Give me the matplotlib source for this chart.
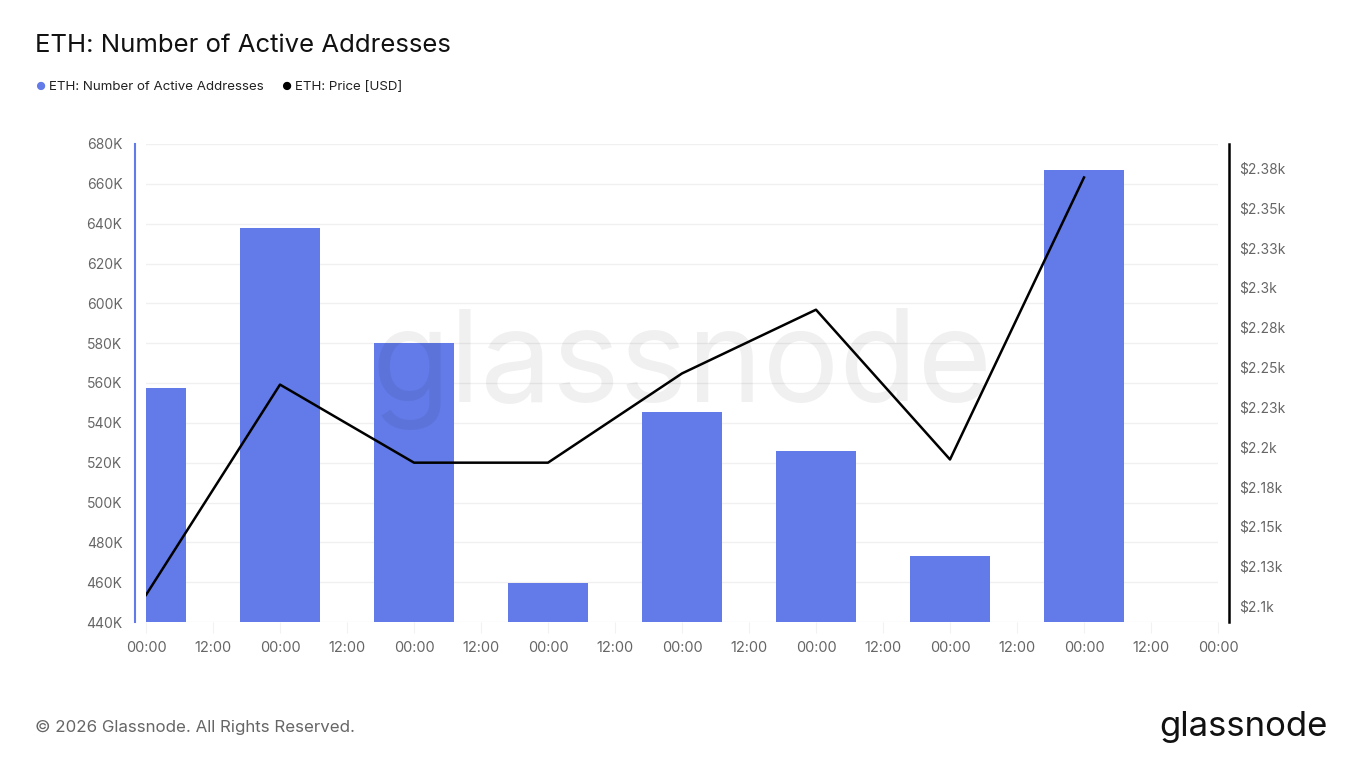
import numpy as np
import matplotlib
matplotlib.use("Agg")
from matplotlib import pyplot as plt

plt.rcParams['font.family'] = ['Inter', 'DejaVu Sans']

# hours since first day 00:00
hours = [0, 24, 48, 72, 96, 120, 144, 168]
active_addresses = [557.5e3, 637.8e3, 580.0e3, 459.6e3, 545.4e3, 525.9e3, 473.0e3, 667.0e3]
price_usd = [2107, 2239, 2190, 2190, 2246, 2286, 2192, 2369]

x_ticks = list(range(0, 193, 12))
x_labels = ["00:00" if t % 24 == 0 else "12:00" for t in x_ticks]
left_ticks = list(range(440000, 680001, 20000))
right_ticks = [2100, 2125, 2150, 2175, 2200, 2225, 2250, 2275, 2300, 2325, 2350, 2375]
right_labels = ["$2.1k", "$2.13k", "$2.15k", "$2.18k", "$2.2k", "$2.23k", "$2.25k",
                "$2.28k", "$2.3k", "$2.33k", "$2.35k", "$2.38k"]

bar_color = "#627be8"
tick_color = "#666666"

fig = plt.figure(figsize=(13.65, 7.68), dpi=100)
ax = fig.add_axes([146/1365, 1-622/768, (1218-146)/1365, (622-144)/768])

ax.bar(hours, active_addresses, width=14.4, color=bar_color, zorder=2)
ax.set_xlim(0, 192)
ax.set_ylim(440000, 680000)
ax.set_yticks(left_ticks)
ax.set_yticklabels([f"{int(v/1000)}K" for v in left_ticks])
ax.set_xticks(x_ticks)
ax.set_xticklabels(x_labels)
ax.grid(axis='y', color="#f0f0f0", linewidth=1, zorder=0)
ax.tick_params(axis='y', length=0, pad=9, labelsize=10, labelcolor=tick_color)
ax.tick_params(axis='x', length=8, color="#f2f2f2", pad=6, labelsize=10.5, labelcolor=tick_color)
for s in ['top', 'right', 'bottom']:
    ax.spines[s].set_visible(False)
ax.spines['left'].set_position(('outward', 8))
ax.spines['left'].set_color(bar_color)
ax.spines['left'].set_linewidth(1.5)

ax2 = ax.twinx()
ax2.plot(hours, price_usd, color="black", linewidth=1.8, zorder=3)
ax2.set_ylim(2090, 2390)
ax2.set_yticks(right_ticks)
ax2.set_yticklabels(right_labels)
ax2.tick_params(axis='y', length=0, pad=7, labelsize=10, labelcolor=tick_color)
for s in ['top', 'left', 'bottom']:
    ax2.spines[s].set_visible(False)
ax2.spines['right'].set_position(('outward', 8))
ax2.spines['right'].set_color("black")
ax2.spines['right'].set_linewidth(1.8)

# watermark
fig.text(0.5, 0.52, "glassnode", fontsize=92, color="black", alpha=0.06,
         ha='center', va='center', zorder=10)

fig.text(35/1365, 1-46/768, "ETH: Number of Active Addresses", fontsize=18.5,
         color="#111111", ha='left', va='center')

fig.text(35/1365, 1-87/768, "\u25cf", fontsize=8, color=bar_color, ha='left', va='center')
fig.text(49/1365, 1-87/768, "ETH: Number of Active Addresses", fontsize=9.6,
         color="#222222", ha='left', va='center')
fig.text(281/1365, 1-87/768, "\u25cf", fontsize=8, color="black", ha='left', va='center')
fig.text(295/1365, 1-87/768, "ETH: Price [USD]", fontsize=9.6,
         color="#222222", ha='left', va='center')

fig.text(35/1365, 1-727/768, "\u00a9 2026 Glassnode. All Rights Reserved.", fontsize=12.2,
         color="#666666", ha='left', va='center')
fig.text(1328/1365, 1-727/768, "glassnode", fontsize=25, color="#111111",
         ha='right', va='center')

fig.savefig("out.png", dpi=100)
